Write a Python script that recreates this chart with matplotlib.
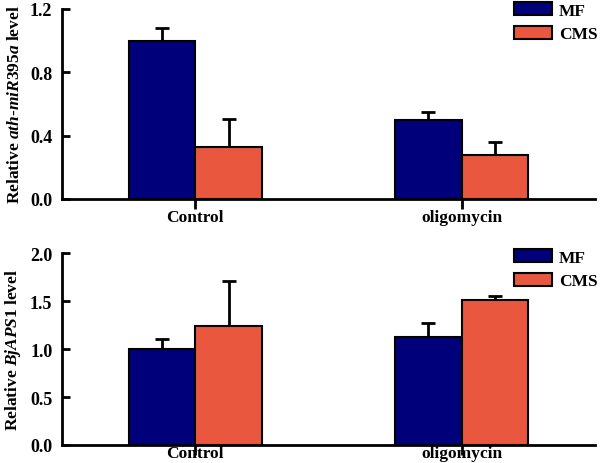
import matplotlib
matplotlib.use("Agg")
import matplotlib.pyplot as plt
import numpy as np

plt.rcParams['font.family'] = ['Liberation Serif', 'DejaVu Serif']
plt.rcParams['font.weight'] = 'bold'
plt.rcParams['mathtext.fontset'] = 'custom'
plt.rcParams['mathtext.rm'] = 'Liberation Serif:bold'
plt.rcParams['mathtext.it'] = 'Liberation Serif:bold:italic'
plt.rcParams['mathtext.bf'] = 'Liberation Serif:bold'

categories = ["Control", "oligomycin"]
series = ["MF", "CMS"]
colors = ["#00007A", "#E8573E"]

# top panel: ath-miR395a
mir_mf = [1.0, 0.50]
mir_mf_err = [0.078, 0.048]
mir_cms = [0.33, 0.278]
mir_cms_err = [0.175, 0.08]
mir_ticks = [0.0, 0.4, 0.8, 1.2]

# bottom panel: BjAPS1
aps_mf = [1.0, 1.13]
aps_mf_err = [0.106, 0.14]
aps_cms = [1.24, 1.51]
aps_cms_err = [0.47, 0.04]
aps_ticks = [0.0, 0.5, 1.0, 1.5, 2.0]

fig = plt.figure(figsize=(6.0, 4.64), dpi=100)
ax1 = fig.add_axes([62/600, 1-200/464, 533/600, 190/464])
ax2 = fig.add_axes([62/600, 1-446/464, 533/600, 191.7/464])

w = 0.25
x = np.arange(len(categories))

def draw(ax, mf, mferr, cms, cmserr, ticks, ylabel, legy, lblpad):
    vals = [mf, cms]
    errs = [mferr, cmserr]
    offs = [-w/2, w/2]
    for i in range(2):
        ax.bar(x + offs[i], vals[i], width=w, color=colors[i], edgecolor='black',
               linewidth=1.5, label=series[i], zorder=2)
        ax.errorbar(x + offs[i], vals[i], yerr=[np.zeros(len(vals[i])), errs[i]],
                    fmt='none', ecolor='black', elinewidth=2, capsize=5, capthick=2, zorder=1)
    ax.set_xlim(-0.5, 1.5)
    ax.set_ylim(ticks[0], ticks[-1])
    ax.set_yticks(ticks)
    ax.set_yticklabels([f"{t:.1f}" for t in ticks])
    ax.set_xticks(x)
    ax.set_xticklabels(categories)
    for s in ['top', 'right']:
        ax.spines[s].set_visible(False)
    for s in ['left', 'bottom']:
        ax.spines[s].set_linewidth(2)
    ax.tick_params(axis='y', direction='in', length=6, width=2, labelsize=13, pad=7)
    ax.tick_params(axis='x', direction='out', length=7, width=2, labelsize=12.5, pad=lblpad)
    ax.set_ylabel(ylabel, fontsize=12.5, fontweight='bold', labelpad=5)
    ax.legend(loc='upper left', bbox_to_anchor=(514/600, 1-legy/464), bbox_transform=fig.transFigure,
              borderpad=0, borderaxespad=0, frameon=False, handlelength=2.2, handleheight=0.8,
              labelspacing=0.4, handletextpad=0.4, prop={'weight': 'bold', 'size': 12.5})

draw(ax1, mir_mf, mir_mf_err, mir_cms, mir_cms_err, mir_ticks,
     r"Relative $\mathit{ath}$-$\mathit{miR395a}$ level", 3, 0)
draw(ax2, aps_mf, aps_mf_err, aps_cms, aps_cms_err, aps_ticks,
     r"Relative $\mathit{BjAPS1}$ level", 250, -7)

fig.savefig("out.png", dpi=100)
